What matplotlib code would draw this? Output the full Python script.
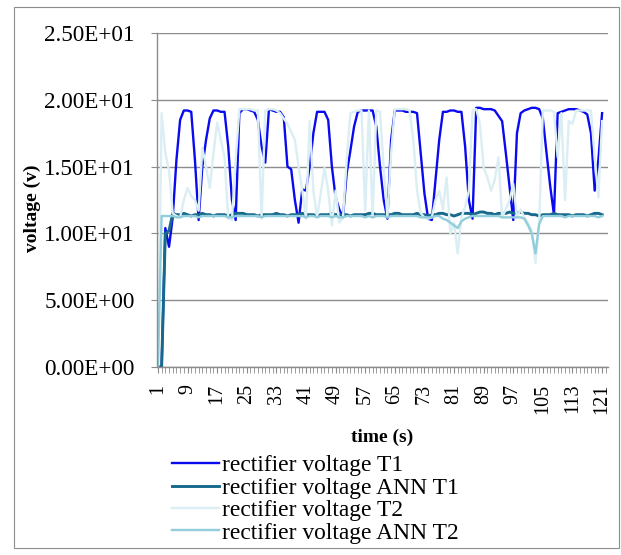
import numpy as np
import matplotlib
matplotlib.use('Agg')
import matplotlib.pyplot as plt
from matplotlib.ticker import MultipleLocator, FuncFormatter
from matplotlib.patches import Rectangle

plt.rcParams['font.family'] = ['Liberation Serif', 'DejaVu Serif']

time = np.arange(1, 122)

# rectifier voltage T1
v_t1 = [0, 0, 10.4, 9.0, 11.2, 15.5, 18.5, 19.2, 19.2, 19.1,
        15.5, 11.0, 15.0, 17.0, 18.6, 19.2, 19.2, 19.1, 19.1, 16.5,
        12.5, 11.0, 19.0, 19.3, 19.3, 19.2, 19.1, 18.5, 16.5, 15.3,
        19.3, 19.2, 19.1, 19.1, 18.7, 15.0, 14.8, 12.5, 10.8, 13.3,
        13.2, 15.0, 17.5, 19.1, 19.1, 19.1, 18.5, 15.0, 12.7, 11.8,
        11.2, 14.5, 16.2, 18.0, 19.1, 19.2, 19.2, 19.2, 19.2, 18.0,
        15.0, 12.5, 11.1, 17.0, 19.2, 19.2, 19.2, 19.1, 19.1, 19.1,
        19.0, 16.0, 13.0, 11.1, 11.0, 14.0, 17.0, 19.1, 19.1, 19.2,
        19.2, 19.1, 19.1, 16.5, 12.5, 11.1, 19.4, 19.4, 19.3, 19.3,
        19.3, 19.2, 18.8, 18.4, 16.0, 13.5, 11.0, 17.5, 19.0, 19.2,
        19.3, 19.4, 19.4, 19.3, 18.6, 16.0, 13.5, 11.4, 19.0, 19.1,
        19.2, 19.3, 19.3, 19.3, 19.2, 19.1, 18.9, 17.5, 13.2, 15.5,
        19.0]

# rectifier voltage ANN T1
v_ann_t1 = [0, 0, 10.0, 10.2, 11.5, 11.4, 11.4, 11.5, 11.4, 11.3,
            11.4, 11.4, 11.5, 11.4, 11.4, 11.3, 11.4, 11.4, 11.4, 11.3,
            11.4, 11.5, 11.5, 11.5, 11.4, 11.4, 11.4, 11.3, 11.4, 11.4,
            11.4, 11.4, 11.5, 11.4, 11.4, 11.3, 11.4, 11.4, 11.4, 11.5,
            11.4, 11.4, 11.4, 11.3, 11.4, 11.4, 11.4, 11.5, 11.4, 11.4,
            11.4, 11.4, 11.3, 11.4, 11.4, 11.4, 11.4, 11.5, 11.5, 11.4,
            11.4, 11.4, 11.4, 11.4, 11.5, 11.5, 11.4, 11.4, 11.4, 11.4,
            11.5, 11.4, 11.4, 11.3, 11.4, 11.4, 11.5, 11.5, 11.4, 11.4,
            11.3, 11.4, 11.5, 11.5, 11.5, 11.4, 11.5, 11.6, 11.6, 11.5,
            11.5, 11.4, 11.5, 11.5, 11.5, 11.6, 11.5, 11.5, 11.6, 11.5,
            11.5, 11.4, 11.4, 11.3, 11.4, 11.4, 11.4, 11.5, 11.4, 11.4,
            11.4, 11.4, 11.3, 11.4, 11.4, 11.4, 11.3, 11.4, 11.5, 11.5,
            11.4]

# rectifier voltage T2
v_t2 = [0, 19.0, 16.0, 14.7, 11.5, 11.3, 11.2, 12.5, 13.4, 12.8,
        12.5, 11.7, 16.4, 15.0, 13.4, 16.0, 18.3, 17.0, 15.7, 11.1,
        11.0, 15.5, 19.3, 19.3, 19.3, 19.3, 19.2, 19.2, 11.1, 19.2,
        19.3, 19.3, 19.2, 19.0, 18.6, 18.2, 17.6, 17.0, 15.0, 13.2,
        11.1, 18.4, 13.2, 11.2, 13.0, 14.9, 13.2, 10.6, 13.2, 10.8,
        11.2, 15.5, 19.0, 19.1, 19.2, 19.2, 11.7, 19.2, 11.2, 19.2,
        19.1, 14.9, 11.2, 16.0, 19.3, 19.3, 19.3, 19.3, 19.2, 17.0,
        13.2, 11.5, 11.2, 11.1, 11.2, 12.5, 13.2, 11.8, 14.2, 10.0,
        10.8, 8.5, 11.2, 12.0, 13.2, 19.2, 19.3, 18.2, 14.9, 14.2,
        13.2, 14.0, 15.7, 11.2, 11.8, 12.5, 13.7, 11.2, 11.8, 11.2,
        10.8, 10.2, 7.8, 10.7, 19.2, 19.2, 19.2, 19.1, 15.7, 19.0,
        12.5, 18.4, 18.2, 19.2, 19.2, 19.2, 19.2, 19.2, 15.7, 12.7,
        18.4]

# rectifier voltage ANN T2
v_ann_t2 = [0, 11.3, 11.3, 11.3, 11.3, 11.2, 11.2, 11.3, 11.3, 11.3,
            11.3, 11.2, 11.3, 11.3, 11.3, 11.3, 11.3, 11.3, 11.3, 11.2,
            11.2, 11.3, 11.3, 11.3, 11.3, 11.3, 11.3, 11.3, 11.2, 11.3,
            11.3, 11.3, 11.3, 11.3, 11.3, 11.3, 11.3, 11.3, 11.3, 11.3,
            11.2, 11.3, 11.3, 11.2, 11.3, 11.3, 11.3, 11.2, 11.3, 11.2,
            11.2, 11.3, 11.3, 11.3, 11.3, 11.3, 11.2, 11.3, 11.2, 11.3,
            11.3, 11.3, 11.2, 11.3, 11.3, 11.3, 11.3, 11.3, 11.3, 11.3,
            11.3, 11.2, 11.2, 11.2, 11.2, 11.3, 11.3, 11.1, 11.0, 10.8,
            10.6, 10.4, 10.9, 11.1, 11.2, 11.3, 11.3, 11.3, 11.3, 11.3,
            11.3, 11.3, 11.3, 11.2, 11.2, 11.2, 11.2, 11.2, 11.2, 11.1,
            10.6, 10.0, 8.5, 10.7, 11.3, 11.3, 11.3, 11.3, 11.3, 11.3,
            11.2, 11.3, 11.3, 11.3, 11.3, 11.3, 11.3, 11.3, 11.3, 11.2,
            11.3]

series_names = ['rectifier voltage T1', 'rectifier voltage ANN T1',
                'rectifier voltage T2', 'rectifier voltage ANN T2']
series_colors = ['#0A0AF0', '#17698C', '#DAEEF3', '#92CDDC']
series_widths = [1.7, 2.1, 1.7, 1.7]

W, H = 621, 555
fig = plt.figure(figsize=(W / 100, H / 100), dpi=100)
fig.patches.append(Rectangle((14 / W, 1 - 548 / H), (619 - 14) / W, (548 - 7) / H,
                             transform=fig.transFigure, fill=False,
                             edgecolor='#8c8c8c', lw=0.8))

ax = fig.add_axes([157 / W, 1 - 367 / H, (608 - 157) / W, (367 - 33) / H])

for vals, name, col, lw in zip([v_t1, v_ann_t1, v_t2, v_ann_t2], series_names,
                               series_colors, series_widths):
    ax.plot(time, vals, color=col, lw=lw, label=name, solid_joinstyle='round')

ax.set_xlim(0.75, 122.6)
ax.set_ylim(0, 25)
ax.yaxis.set_major_locator(MultipleLocator(5))
ax.yaxis.set_major_formatter(FuncFormatter(lambda v, p: '{:.2E}'.format(v)))
ax.set_xticks(np.arange(1, 122, 8))
ax.xaxis.set_minor_locator(MultipleLocator(1))
ax.grid(axis='y', color='#8c8c8c', lw=1.0)
ax.set_axisbelow(True)

for s in ['top', 'right']:
    ax.spines[s].set_visible(False)
for s in ['left', 'bottom']:
    ax.spines[s].set_color('#8c8c8c')
    ax.spines[s].set_linewidth(1.0)

ax.tick_params(axis='y', labelsize=16.7, length=4, color='#8c8c8c', pad=12)
ax.tick_params(axis='x', which='both', labelsize=14.5, length=4, color='#8c8c8c',
               pad=8, labelrotation=90)

fig.text(382 / W, 1 - 437 / H, 'time (s)', ha='center', va='center',
         fontsize=14, fontweight='bold')
fig.text(32 / W, 1 - 208 / H, 'voltage (v)', ha='center', va='center',
         rotation=90, fontsize=14, fontweight='bold')

fig.legend(loc='upper left', bbox_to_anchor=(172 / W, 1 - 455 / H),
           frameon=False, fontsize=16.9, handlelength=2.0, handletextpad=0.15,
           labelspacing=0.04, borderpad=0, borderaxespad=0)

fig.savefig('out.png', dpi=100)
